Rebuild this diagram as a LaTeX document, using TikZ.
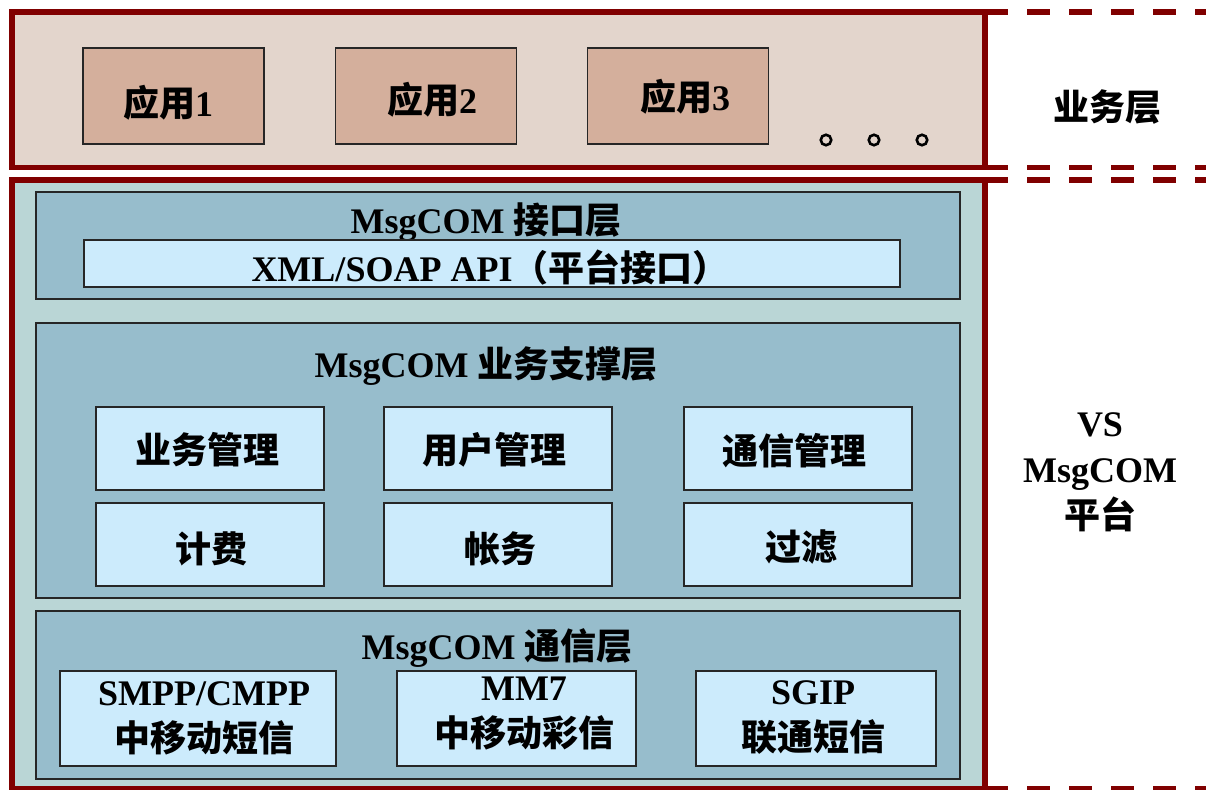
\documentclass[tikz,border=0pt]{standalone}
\usepackage{fontspec}
\setmainfont{Liberation Serif}
\newfontfamily\zhfont{Noto Sans CJK SC}
\newcommand{\zh}[1]{{\zhfont\bfseries #1}}
\definecolor{dkred}{HTML}{800000}
\definecolor{bizfill}{HTML}{E3D5CC}
\definecolor{appfill}{HTML}{D4AF9C}
\definecolor{platfill}{HTML}{BAD6D6}
\definecolor{layerfill}{HTML}{97BDCC}
\definecolor{innerfill}{HTML}{CCEBFC}
\tikzset{
  redbox/.style={draw=dkred, line width=5.5pt},
  reddash/.style={draw=dkred, line width=5.5pt, dash pattern=on 23pt off 19pt},
  appbox/.style={draw=black!85, line width=1.3pt, fill=appfill, inner sep=0pt},
  layerbox/.style={draw=black!85, line width=1.3pt, fill=layerfill, inner sep=0pt},
  innerbox/.style={draw=black!85, line width=1.3pt, fill=innerfill, inner sep=0pt},
  txt/.style={inner sep=0pt, align=center},
  dot/.style={circle, draw=black, line width=2.6pt, minimum size=10.5pt, inner sep=0pt}
}
\begin{document}
\begin{tikzpicture}[x=1pt,y=-1pt,font=\fontsize{36}{46}\selectfont\bfseries]
\useasboundingbox (0,0) rectangle (1206,789);
% business layer
\node[redbox, fill=bizfill, minimum width=973pt, minimum height=155.5pt, inner sep=0pt] (biz) at (498.5,89.75) {};
\draw[reddash] (985,12) -- (1206,12);
\draw[reddash] (985,167.5) -- (1206,167.5);
\node[appbox, minimum width=181pt, minimum height=96pt] (app1) at (173.5,96) {};
\node[appbox, minimum width=181pt, minimum height=96pt] (app2) at (426,96) {};
\node[appbox, minimum width=181pt, minimum height=96pt] (app3) at (678,96) {};
\node[txt] (t1) at (168,103) {\zh{应用}1};
\node[txt] (t2) at (432,100) {\zh{应用}2};
\node[txt] (t3) at (685,97) {\zh{应用}3};
\node[dot] (d1) at (826,140) {};
\node[dot] (d2) at (874,140) {};
\node[dot] (d3) at (922,140) {};
\node[txt] (bizlabel) at (1107,107) {\zh{业务层}};
% platform
\node[redbox, fill=platfill, minimum width=973pt, minimum height=608.5pt, inner sep=0pt] (plat) at (498.5,484.25) {};
\draw[reddash] (985,180) -- (1206,180);
\draw[reddash] (985,788.5) -- (1206,788.5);
\node[txt] (platlabel) at (1100,472) {VS\\MsgCOM\\\zh{平台}};
% interface layer
\node[layerbox, minimum width=924pt, minimum height=107pt] (iface) at (498,245.5) {};
\node[txt] (ifacet) at (486,222) {MsgCOM \zh{接口层}};
\node[innerbox, minimum width=816pt, minimum height=47pt] (xml) at (492,263.5) {};
\node[txt] (xmlt) at (490,268) {XML/SOAP API\zh{（平台接口）}};
% support layer
\node[layerbox, minimum width=924pt, minimum height=275pt] (supp) at (498,460.5) {};
\node[txt] (suppt) at (486,366) {MsgCOM \zh{业务支撑层}};
\node[innerbox, minimum width=228pt, minimum height=83pt] (s1) at (210,448.5) {};
\node[innerbox, minimum width=228pt, minimum height=83pt] (s2) at (498,448.5) {};
\node[innerbox, minimum width=228pt, minimum height=83pt] (s3) at (798,448.5) {};
\node[innerbox, minimum width=228pt, minimum height=83pt] (s4) at (210,544.5) {};
\node[innerbox, minimum width=228pt, minimum height=83pt] (s5) at (498,544.5) {};
\node[innerbox, minimum width=228pt, minimum height=83pt] (s6) at (798,544.5) {};
\node[txt] at (207,450) {\zh{业务管理}};
\node[txt] at (494,450) {\zh{用户管理}};
\node[txt] at (794,451) {\zh{通信管理}};
\node[txt] at (211,549) {\zh{计费}};
\node[txt] at (500,549) {\zh{帐务}};
\node[txt] at (801,547) {\zh{过滤}};
% comm layer
\node[layerbox, minimum width=924pt, minimum height=168pt] (comm) at (498,695) {};
\node[txt] (commt) at (497,648) {MsgCOM \zh{通信层}};
\node[innerbox, minimum width=276pt, minimum height=95pt] (c1) at (198,718.5) {};
\node[innerbox, minimum width=239pt, minimum height=95pt] (c2) at (516.5,718.5) {};
\node[innerbox, minimum width=240pt, minimum height=95pt] (c3) at (816,718.5) {};
\node[txt] at (204,718) {SMPP/CMPP\\\zh{中移动短信}};
\node[txt] at (524,714) {MM7\\\zh{中移动彩信}};
\node[txt] at (813,718) {SGIP\\\zh{联通短信}};
\end{tikzpicture}
\end{document}
